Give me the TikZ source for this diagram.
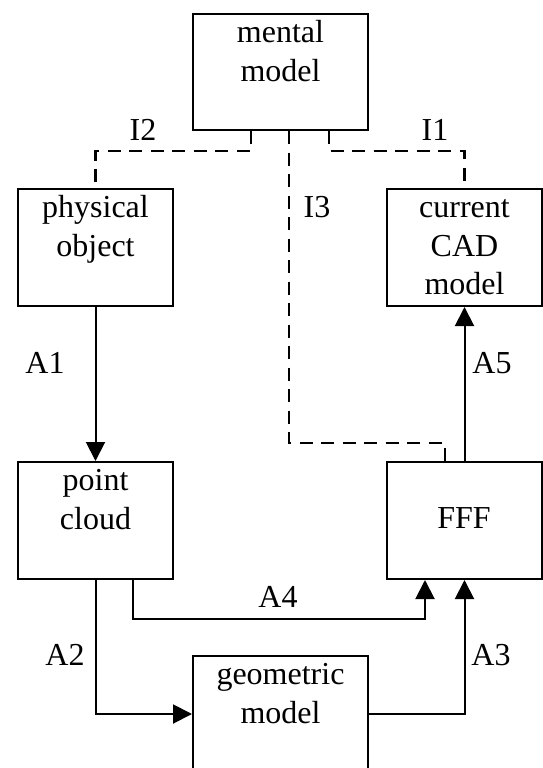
\documentclass[tikz,border=0pt]{standalone}
\usepackage{fontspec}
\setmainfont{Liberation Serif}
\usetikzlibrary{arrows.meta,calc}
\newcommand\hdstrut{\rule{0pt}{29.5pt}}
\tikzset{
  box/.style={draw, line width=2pt, inner sep=0pt, anchor=north west},
  smallbox/.style={box, minimum width=155pt, minimum height=117pt},
  bigbox/.style={box, minimum width=175pt, minimum height=116pt},
  txt/.style={anchor=north, align=center, inner sep=0pt, font=\fontsize{32}{38.5}\selectfont},
  lab/.style={anchor=base, inner sep=0pt, font=\fontsize{32}{38.5}\selectfont},
  dsh/.style={line width=2.8pt, dash pattern=on 13pt off 8.5pt},
  arr/.style={line width=2pt, -{Triangle[length=19pt,width=19pt]}}
}
\begin{document}
\begin{tikzpicture}[x=1pt,y=-1pt]
\useasboundingbox (0,0) rectangle (543,768);
% boxes
\node[bigbox] (mm) at (192,13) {};
\node[smallbox] (po) at (17,188) {};
\node[smallbox] (cad) at (386,188) {};
\node[smallbox] (pc) at (17,461) {};
\node[smallbox] (fff) at (386,461) {};
\node[bigbox] (geo) at (192,655) {};
% texts
\node[txt] (tmm) at (mm.north) {\hdstrut mental\\model};
\node[txt] (tpo) at (po.north) {\hdstrut physical\\object};
\node[txt] (tcad) at (cad.north) {\hdstrut current\\CAD\\model};
\node[txt] (tpc) at (pc.north) {\hdstrut point\\cloud};
\node[lab] (tfff) at (464,528) {FFF};
\node[txt] (tgeo) at (geo.north) {\hdstrut geometric\\model};
% dashed connectors
\draw[dsh] ($(mm.south west)+(59,0)$) -- ++(0,20) -| (po.north);
\draw[dsh] ($(mm.south east)+(-40,0)$) -- ++(0,20) -| (cad.north);
\draw[dsh] ($(mm.south west)+(97,0)$) -- ++(0,312) -| ($(fff.north west)+(59,0)$);
% solid connectors
\draw[arr] (po.south) -- (pc.north);
\draw[arr] (fff.north) -- (cad.south);
\draw[arr] ($(pc.south west)+(116,0)$) -- ++(0,39) -| ($(fff.south west)+(39,0)$);
\draw[arr] (pc.south) |- (geo.west);
\draw[arr] (geo.east) -| (fff.south);
% labels
\node[lab] (li2) at (143,140) {I2};
\node[lab] (li1) at (435,140) {I1};
\node[lab] (li3) at (317,217) {I3};
\node[lab] (la1) at (45,373) {A1};
\node[lab] (la5) at (492,373) {A5};
\node[lab] (la4) at (278,607) {A4};
\node[lab] (la2) at (65,665) {A2};
\node[lab] (la3) at (491,665) {A3};
\end{tikzpicture}
\end{document}
